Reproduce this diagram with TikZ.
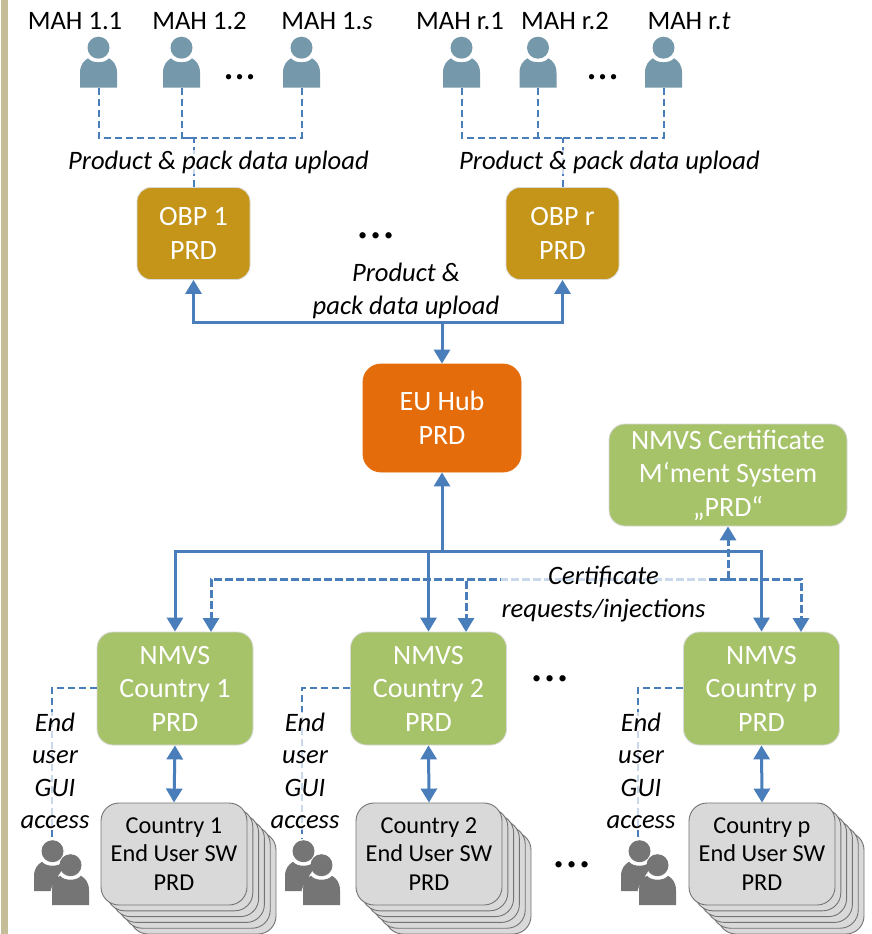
\documentclass[tikz,border=0pt]{standalone}
\usepackage{fontspec}
\setmainfont{Carlito}
\usetikzlibrary{arrows.meta,calc}
\definecolor{strip}{HTML}{C4BD97}
\definecolor{linkblue}{HTML}{4A7EBB}
\definecolor{gold}{HTML}{C49518}
\definecolor{hubor}{HTML}{E46C0A}
\definecolor{nmvsgr}{HTML}{A6C36A}
\definecolor{mahcol}{HTML}{7598AA}
\definecolor{usercol}{HTML}{757575}
\newcommand{\bigfs}{\fontsize{28}{33.5}\selectfont}
\newcommand{\mahfs}{\fontsize{26.6}{33}\selectfont}
\newcommand{\swfs}{\fontsize{24.3}{28.7}\selectfont}
\newcommand{\labfs}{\fontsize{26.6}{32.5}\selectfont\itshape}
\tikzset{
  x=1pt,y=-1pt,
  box/.style={rounded corners=#1,draw=white!70!gray,line width=.8pt,text=white,align=center,font=\bigfs,inner sep=0pt},
  obpbox/.style={box=14pt,fill=gold,minimum width=113pt,minimum height=92pt,text depth=0pt},
  hubbox/.style={box=18pt,fill=hubor,draw=hubor,minimum width=158pt,minimum height=108pt},
  certbox/.style={box=16pt,fill=nmvsgr,minimum width=238pt,minimum height=102pt},
  nmvsbox/.style={box=16pt,fill=nmvsgr,minimum width=156pt,minimum height=113pt},
  swbox/.style={rounded corners=18pt,draw=black!55,line width=.9pt,fill=black!15,text=black,align=center,font=\swfs,minimum width=146pt,minimum height=102pt,inner sep=0pt},
  tip/.style={inner sep=0pt,font=\mahfs},
  figlabel/.style={fill=white,fill opacity=.7,text opacity=1,font=\labfs,align=center,inner sep=1pt},
  dots/.style={font=\fontsize{#1}{#1}\selectfont,inner sep=0pt},
  ghost/.style={inner sep=0pt,minimum width=37pt,minimum height=52pt},
  main link/.style={draw=linkblue,line width=3pt,{Triangle[width=16pt,length=14pt]}-{Triangle[width=16pt,length=14pt]}},
  up link/.style={draw=linkblue,line width=3pt,-{Triangle[width=16pt,length=14pt]}},
  thin dash/.style={draw=linkblue,line width=2pt,dash pattern=on 7pt off 4pt},
  cert dash/.style={draw=linkblue,line width=3pt,dash pattern=on 8pt off 3pt,-{Triangle[width=16pt,length=14pt]}},
  pics/personicon/.style={code={
    \fill[#1] (0,-14.3) circle (11);
    \fill[#1] (-18.5,25.5) -- (-18.5,11) .. controls (-18.5,3) and (-15,-1) .. (-10.5,-3.7)
      .. controls (-6,1.6) and (6,1.6) .. (10.5,-3.7)
      .. controls (15,-1) and (18.5,3) .. (18.5,11) -- (18.5,25.5) -- cycle;
  }},
  pics/usersicon/.style={code={
    \pic at (-9,-6.5) {personicon=usercol};
    \fill[white] (9,8.5) circle (13);
    \fill[white] (-11,33) -- (-11,22) .. controls (-11,10) and (-3,8) .. (9,8) .. controls (21,8) and (29,12) .. (29,22) -- (29,33) -- cycle;
    \pic at (9,7.5) {personicon=usercol};
  }},
}
\begin{document}
\begin{tikzpicture}
\clip (0,0) rectangle (871,934);
\fill[white] (0,0) rectangle (871,934);
\fill[strip] (1,0) rectangle (8,934);

% MAH groups
\node[tip] (t11) at (75,21) {MAH 1.1};
\node[tip] (t12) at (199.5,21) {MAH 1.2};
\node[tip] (t1s) at (327,21) {MAH 1.\textit{s}};
\node[tip] (tr1) at (460,21) {MAH r.1};
\node[tip] (tr2) at (565,21) {MAH r.2};
\node[tip] (trt) at (689,21) {MAH r.\textit{t}};
\node[ghost] (m11) at (98.5,62) {};
\node[ghost] (m12) at (181.5,62) {};
\node[ghost] (m1s) at (301.5,62) {};
\node[ghost] (mr1) at (461.5,62) {};
\node[ghost] (mr2) at (538,62) {};
\node[ghost] (mrt) at (663.5,62) {};
\pic at (m11.center) {personicon=mahcol};
\pic at (m12.center) {personicon=mahcol};
\pic at (m1s.center) {personicon=mahcol};
\pic at (mr1.center) {personicon=mahcol};
\pic at (mr2.center) {personicon=mahcol};
\pic at (mrt.center) {personicon=mahcol};
\node[dots=44] (d1) at (240,77) {...};
\node[dots=44] (d2) at (603,77) {...};
\node[dots=52] (d3) at (376,236) {...};
\node[dots=52] (d4) at (550,679) {...};
\node[dots=52] (d5) at (572,865) {...};

% main boxes
\node[obpbox] (obp1) at (193.5,233.5) {OBP 1\\PRD};
\node[obpbox] (obpr) at (562.5,233.5) {OBP r\\PRD};
\node[hubbox] (hub) at (442,418) {EU Hub\\PRD};
\node[certbox] (cert) at (728,475) {NMVS Certificate\\M‘ment System\\„PRD“};
\node[nmvsbox] (n1) at (175,688.5) {NMVS\\Country 1\\PRD};
\node[nmvsbox] (n2) at (428.5,688.5) {NMVS\\Country 2\\PRD};
\node[nmvsbox] (np) at (761.5,688.5) {NMVS\\Country p\\PRD};

% stacks
\foreach \cx in {174,429,762}{
  \foreach \k in {5,4,3,2,1}{
    \draw[rounded corners=18pt,draw=black!55,line width=.9pt,fill=black!15]
      ({\cx-73+5.8*\k},{803+5.8*\k}) rectangle ({\cx+73+5.8*\k},{905+5.8*\k});
  }
}
\node[swbox] (s1) at (174,854) {Country 1\\End User SW\\PRD};
\node[swbox] (s2) at (429,854) {Country 2\\End User SW\\PRD};
\node[swbox] (sp) at (762,854) {Country p\\End User SW\\PRD};

% end users
\node[ghost] (u1) at (61.5,872) {};
\node[ghost] (u2) at (312.5,872) {};
\node[ghost] (up) at (648.5,872) {};
\pic at (u1.center) {usersicon};
\pic at (u2.center) {usersicon};
\pic at (up.center) {usersicon};

% coordinates
\coordinate (busa) at (193.5,137.5);
\coordinate (busb) at (562.5,137.5);
\coordinate (obpbus) at (442,322);
\coordinate (nbus) at (442,551);
\coordinate (cbus) at (728,579);
\coordinate (c1) at (211,632);
\coordinate (c2) at (466,632);
\coordinate (cp) at (801,632);
\coordinate (g1) at (52,838);
\coordinate (g2) at (302,838);
\coordinate (gp) at (638,838);

% MAH dashed links
\draw[thin dash] (m11.south) |- (busa);
\draw[thin dash] (m12.south) |- (busa);
\draw[thin dash] (m1s.south) |- (busa);
\draw[thin dash] (obp1.north) -- (busa);
\draw[thin dash] (mr1.south) |- (busb);
\draw[thin dash] (mr2.south) |- (busb);
\draw[thin dash] (mrt.south) |- (busb);
\draw[thin dash] (obpr.north) -- (busb);

% OBP - hub
\draw[up link] (obpbus) -| (obp1.south);
\draw[up link] (obpbus) -| (obpr.south);
\draw[up link] (obpbus) -- (hub.north);

% hub - NMVS
\draw[up link] (nbus) -- (hub.south);
\draw[up link] (nbus) -| (n1.north);
\draw[up link] (nbus) -| (n2.north);
\draw[up link] (nbus) -| (np.north);

% certificate links
\draw[cert dash] (cbus) -- (cert.south);
\draw[cert dash] (cbus) -| (c1);
\draw[cert dash] (cbus) -| (c2);
\draw[cert dash] (cbus) -| (cp);

% NMVS - SW
\draw[main link] (n1.south) -- (s1.north);
\draw[main link] (n2.south) -- (s2.north);
\draw[main link] (np.south) -- (sp.north);

% GUI
\draw[thin dash] (n1.west |- 0,688) -| (g1);
\draw[thin dash] (n2.west |- 0,688) -| (g2);
\draw[thin dash] (np.west |- 0,688) -| (gp);

% labels
\node[figlabel] (l1) at (218.5,162) {Product \& pack data upload};
\node[figlabel] (l2) at (609.5,162) {Product \& pack data upload};
\node[figlabel,fill opacity=0] (l3) at (406,291) {Product \&\\pack data upload};
\node[figlabel] (l4) at (603.5,594) {Certificate\\requests/injections};
\node[figlabel] (e1) at (55,771) {End\\user\\GUI\\access};
\node[figlabel] (e2) at (305,771) {End\\user\\GUI\\access};
\node[figlabel] (ep) at (641,771) {End\\user\\GUI\\access};
\end{tikzpicture}
\end{document}
